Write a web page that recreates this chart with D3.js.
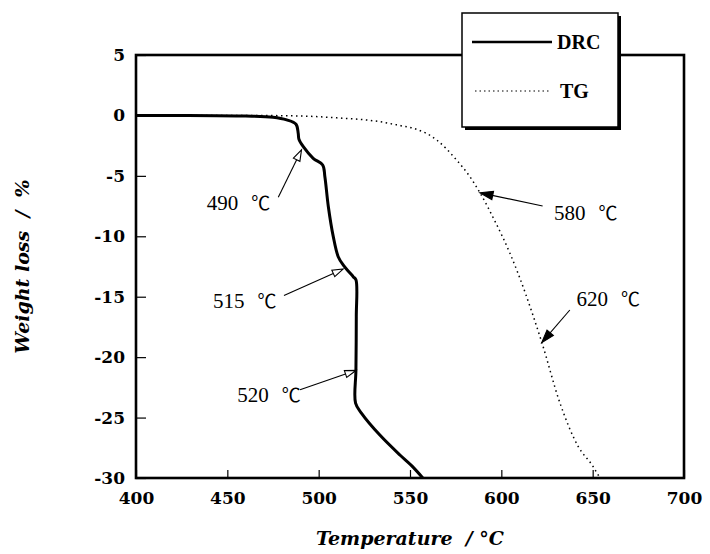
<!DOCTYPE html>
<meta charset="utf-8">
<script src="https://d3js.org/d3.v7.min.js"></script>
<style>
  body { margin: 0; background: #fff; }
</style>
<body>
<div id="my_dataviz"></div>
<script>
// DRC curve (temperature in C, weight loss in %)
var drcTemp = [400, 424, 460, 475, 482.5, 487.6, 488.8, 489.2, 491.6, 497, 502.2, 503.4, 505.3, 508, 510.7, 513.5, 518.9, 520.4, 520.6, 520.4, 520.2, 523.5, 533.5, 544.5, 551, 557]
var drcLoss = [0, 0, -0.05, -0.15, -0.37, -0.73, -1.47, -1.97, -2.59, -3.55, -4.1, -5.07, -7.55, -10.03, -11.69, -12.38, -13.34, -13.6, -16.65, -21.06, -23.8, -24.65, -26.45, -28.1, -29.0, -30]

// TG curve
var tgTemp = [400, 460, 490, 510, 533.6, 545, 551.8, 564.6, 575.5, 582.8, 588.3, 596.5, 604.7, 622.1, 632.1, 642.1, 650, 654]
var tgLoss = [0, 0, -0.05, -0.2, -0.52, -0.85, -1.06, -2.03, -3.69, -5.07, -6.4, -8.75, -11.4, -18.75, -23.8, -27.4, -29.0, -30]

var xTicks = [400, 450, 500, 550, 600, 650, 700]
var yTicks = [5, 0, -5, -10, -15, -20, -25, -30]

// annotations: tip on the curve, tail of arrow, text anchor (all in data units)
var noteLabels = ["490", "515", "520", "580", "620"]
var noteTip = [[490.6, -2.85], [513.5, -12.7], [520.4, -21.1], [588.3, -6.4], [622.1, -18.8]]
var noteTail = [[477.9, -6.77], [481.0, -14.9], [489.8, -22.7], [622.6, -7.49], [637.5, -16.1]]
var noteText = [[438.7, -7.8], [442.1, -15.93], [455.4, -23.7], [628.8, -8.65], [641.2, -15.8]]
var noteHollow = [true, true, true, false, false]

var width = 710,
    height = 554
var padL = 136, padR = 684, padT = 55, padB = 478

var svg = d3.select("#my_dataviz")
    .append("svg")
    .attr("width", width)
    .attr("height", height)

var x = d3.scaleLinear().domain([400, 700]).range([padL, padR])
var y = d3.scaleLinear().domain([-30, 5]).range([padB, padT])

var tickFont = "'DejaVu Serif', serif"

// x axis (ticks point inward)
var gx = svg.append("g")
    .attr("transform", "translate(0," + padB + ")")
    .call(d3.axisBottom(x).tickValues(xTicks).tickSize(-8).tickPadding(14).tickFormat(function(d){ return String(d) }))
gx.select(".domain").remove()
gx.selectAll("line").attr("stroke", "#000").attr("stroke-width", 1.2)
gx.selectAll("text").style("font-family", tickFont).style("font-size", "17px").style("font-weight", "bold").attr("fill", "#000")

// y axis
var gy = svg.append("g")
    .attr("transform", "translate(" + padL + ",0)")
    .call(d3.axisLeft(y).tickValues(yTicks).tickSize(-10).tickPadding(11).tickFormat(function(d){ return String(d) }))
gy.select(".domain").remove()
gy.selectAll("line").attr("stroke", "#000").attr("stroke-width", 1.2)
gy.selectAll("text").style("font-family", tickFont).style("font-size", "17px").style("font-weight", "bold").attr("fill", "#000")

// plot frame
svg.append("rect")
    .attr("x", padL).attr("y", padT)
    .attr("width", padR - padL).attr("height", padB - padT)
    .attr("fill", "none").attr("stroke", "#000").attr("stroke-width", 2.6)

// curves
var tgLine = d3.line()
    .x(function(d){ return x(d[0]) })
    .y(function(d){ return y(d[1]) })
    .curve(d3.curveMonotoneX)

var drcLine = d3.line()
    .x(function(d){ return x(d[0]) })
    .y(function(d){ return y(d[1]) })
    .curve(d3.curveCatmullRom.alpha(0.5))

var tgData = tgTemp.map(function(t, i){ return [t, tgLoss[i]] })
var drcData = drcTemp.map(function(t, i){ return [t, drcLoss[i]] })

svg.append("path")
    .attr("d", tgLine(tgData))
    .attr("fill", "none").attr("stroke", "#000")
    .attr("stroke-width", 1.5)
    .attr("stroke-dasharray", "1.5,3.5")

svg.append("path")
    .attr("d", drcLine(drcData))
    .attr("fill", "none").attr("stroke", "#000")
    .attr("stroke-width", 3)
    .attr("stroke-linejoin", "round")

// arrows + labels
var noteFont = "'Liberation Serif', 'DejaVu Serif', serif"
noteLabels.forEach(function(lab, i) {
    var tx = x(noteTip[i][0]), ty = y(noteTip[i][1])
    var sx = x(noteTail[i][0]), sy = y(noteTail[i][1])
    var ang = Math.atan2(ty - sy, tx - sx)
    var len = noteHollow[i] ? 11 : 13
    var half = noteHollow[i] ? 3.6 : 4.2
    var bx = tx - len * Math.cos(ang), by = ty - len * Math.sin(ang)
    var px = -Math.sin(ang), py = Math.cos(ang)
    // shaft
    svg.append("line")
        .attr("x1", sx).attr("y1", sy)
        .attr("x2", noteHollow[i] ? bx : tx - 4 * Math.cos(ang))
        .attr("y2", noteHollow[i] ? by : ty - 4 * Math.sin(ang))
        .attr("stroke", "#000").attr("stroke-width", 1.1)
    // head
    var pts = [[tx, ty], [bx + px * half, by + py * half], [bx - px * half, by - py * half]]
    svg.append("path")
        .attr("d", "M" + pts.join("L") + "Z")
        .attr("fill", noteHollow[i] ? "#fff" : "#000")
        .attr("stroke", "#000").attr("stroke-width", 1.1)
        .attr("stroke-linejoin", "miter")

    var t = svg.append("text")
        .attr("x", x(noteText[i][0])).attr("y", y(noteText[i][1]))
        .style("font-family", noteFont).style("font-size", "21px")
        .attr("fill", "#000")
    t.append("tspan").text(lab)
    t.append("tspan").attr("dx", 13).style("font-family", "'Noto Sans CJK SC', 'DejaVu Serif', serif").style("font-size", "19px").text("℃")
})

// legend box with shadow
var lg = svg.append("g")
lg.append("rect").attr("x", 465).attr("y", 16).attr("width", 156).attr("height", 114).attr("fill", "#000")
lg.append("rect").attr("x", 462).attr("y", 13).attr("width", 156).attr("height", 114)
    .attr("fill", "#fff").attr("stroke", "#000").attr("stroke-width", 1.5)
lg.append("line").attr("x1", 472).attr("x2", 552).attr("y1", 42).attr("y2", 42)
    .attr("stroke", "#000").attr("stroke-width", 2.6)
lg.append("line").attr("x1", 475).attr("x2", 549).attr("y1", 91).attr("y2", 91)
    .attr("stroke", "#000").attr("stroke-width", 1.2).attr("stroke-dasharray", "1.5,3")
lg.append("text").attr("x", 557).attr("y", 49).text("DRC")
    .style("font-family", noteFont).style("font-size", "20px").style("font-weight", "bold")
lg.append("text").attr("x", 560).attr("y", 98).text("TG")
    .style("font-family", noteFont).style("font-size", "20px").style("font-weight", "bold")

// axis titles
svg.append("text")
    .attr("x", (padL + padR) / 2).attr("y", 545)
    .attr("text-anchor", "middle")
    .style("white-space", "pre")
    .style("font-family", tickFont).style("font-size", "19px")
    .style("font-weight", "bold").style("font-style", "italic")
    .text("Temperature  / °C")

svg.append("text")
    .attr("transform", "translate(29," + (padT + padB) / 2 + ") rotate(-90)")
    .attr("text-anchor", "middle")
    .style("white-space", "pre")
    .style("font-family", tickFont).style("font-size", "19px")
    .style("font-weight", "bold").style("font-style", "italic")
    .text("Weight loss  /  %")
</script>
</body>
